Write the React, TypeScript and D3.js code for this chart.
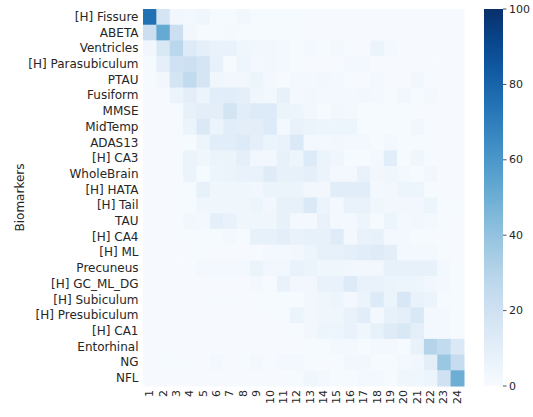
import React from "react";
import * as d3 from "d3";

const rowLabels = [
  "[H] Fissure", "ABETA", "Ventricles", "[H] Parasubiculum", "PTAU", "Fusiform",
  "MMSE", "MidTemp", "ADAS13", "[H] CA3", "WholeBrain", "[H] HATA", "[H] Tail",
  "TAU", "[H] CA4", "[H] ML", "Precuneus", "[H] GC_ML_DG", "[H] Subiculum",
  "[H] Presubiculum", "[H] CA1", "Entorhinal", "NG", "NFL",
];
const colLabels = Array.from({ length: 24 }, (_, i) => String(i + 1));

const r00 = [75, 17, 3, 2, 4, 1, 1, 3, 1, 1, 1, 1, 0.5, 0.5, 0.5, 0.5, 0.5, 0.5, 0.5, 0.5, 0.5, 0.5, 0.5, 0.5];
const r01 = [22, 52, 22, 3, 1, 1, 1.5, 1, 1, 1, 1, 1, 0.5, 0.5, 0.5, 0.5, 0.5, 0.5, 0.5, 0.5, 0.5, 0.5, 0.5, 0.5];
const r02 = [3, 15, 28, 13, 9, 7, 7, 4, 3, 3, 2, 1, 2, 1, 2, 0.5, 0.5, 6, 2, 0.5, 0.5, 0.5, 0.5, 0.5];
const r03 = [1, 9, 20, 21, 17, 8, 1, 5, 2, 3, 2, 1, 0.5, 0.5, 0.5, 2, 2, 0.5, 0.5, 0.5, 0.5, 0.5, 0.5, 0.5];
const r04 = [1, 3, 18, 26, 17, 4, 3, 3, 5, 2, 0.5, 2, 2, 3, 2, 1, 0.5, 2, 0.5, 0.5, 3, 0.5, 0.5, 0.5];
const r05 = [0.5, 0.5, 6, 10, 6, 11, 11, 9, 4, 2, 8, 2, 3, 2, 2, 2, 3, 2, 1, 3, 1, 2, 0.5, 0.5];
const r06 = [0.5, 0.5, 1, 8, 10, 10, 18, 11, 13, 13, 6, 5, 3, 1, 3, 2, 1, 1, 1, 1, 0.5, 0.5, 0.5, 0.5];
const r07 = [0.5, 0.5, 1, 6, 14, 6, 11, 10, 10, 13, 2, 7, 6, 5, 5, 5, 1, 1, 1, 1, 3, 0.5, 0.5, 0.5];
const r08 = [0.5, 0.5, 0.5, 1, 5, 11, 11, 13, 9, 6, 7, 14, 2, 2, 3, 2, 2, 1, 2, 1, 1, 1, 0.5, 0.5];
const r09 = [0.5, 0.5, 0.5, 6, 4, 6, 6, 9, 3, 3, 8, 5, 13, 6, 4, 1, 1, 2, 11, 1, 4, 1, 0.5, 0.5];
const r10 = [0.5, 0.5, 0.5, 6, 1, 5, 6, 7, 7, 12, 8, 8, 9, 6, 2, 2, 7, 3, 4, 2, 1, 3, 0.5, 0.5];
const r11 = [0.5, 0.5, 1, 1, 8, 4, 4, 4, 3, 6, 6, 6, 3, 3, 11, 11, 11, 2, 3, 5, 5, 1, 0.5, 0.5];
const r12 = [0.5, 0.5, 1, 1, 4, 4, 4, 4, 5, 3, 8, 8, 14, 6, 2, 7, 7, 4, 3, 3, 3, 5, 1, 1];
const r13 = [0.5, 0.5, 0.5, 3, 2, 9, 7, 4, 4, 4, 8, 2, 2, 7, 2, 2, 5, 1, 5, 2, 3, 2, 1, 0.5];
const r14 = [0.5, 0.5, 0.5, 1, 1, 1, 2, 1, 8, 8, 10, 7, 8, 8, 12, 2, 7, 8, 2, 2, 1, 1, 0.5, 0.5];
const r15 = [0.5, 0.5, 0.5, 0.5, 1, 0.5, 0.5, 0.5, 0.5, 2, 2, 3, 5, 8, 8, 9, 11, 12, 10, 2, 2, 2, 1, 0.5];
const r16 = [0.5, 0.5, 0.5, 0.5, 2, 2, 2, 2, 6, 3, 3, 7, 6, 4, 4, 3, 3, 3, 8, 8, 8, 8, 2, 1];
const r17 = [0.5, 0.5, 0.5, 0.5, 0.5, 0.5, 0.5, 0.5, 2, 0.5, 7, 3, 3, 7, 7, 13, 7, 7, 6, 5, 5, 3, 2, 1];
const r18 = [0.5, 0.5, 0.5, 0.5, 0.5, 1, 1, 0.5, 1, 1, 1, 1, 3, 4, 5, 2, 6, 13, 6, 16, 7, 6, 1, 1];
const r19 = [0.5, 0.5, 0.5, 0.5, 0.5, 0.5, 0.5, 0.5, 0.5, 0.5, 1, 6, 3, 4, 4, 7, 11, 2, 8, 9, 15, 2, 2, 1];
const r20 = [0.5, 0.5, 0.5, 0.5, 0.5, 0.5, 0.5, 0.5, 0.5, 0.5, 0.5, 1, 3, 5, 5, 7, 4, 8, 12, 15, 10, 2, 2, 1];
const r21 = [0.5, 0.5, 0.5, 0.5, 0.5, 0.5, 0.5, 0.5, 0.5, 0.5, 0.5, 0.5, 1, 1, 2, 2, 1, 2, 2, 1, 7, 30, 25, 14];
const r22 = [0.5, 1, 1, 0.5, 0.5, 2, 0.5, 1, 2, 0.5, 2, 2, 1, 0.5, 1, 3, 3, 1, 1, 2, 3, 10, 38, 24];
const r23 = [0.5, 0.5, 0.5, 0.5, 0.5, 0.5, 0.5, 0.5, 0.5, 0.5, 0.5, 1, 4, 2, 1, 1, 2, 2, 1, 4, 4, 5, 20, 50];

const matrix = [r00, r01, r02, r03, r04, r05, r06, r07, r08, r09, r10, r11, r12, r13, r14, r15, r16, r17, r18, r19, r20, r21, r22, r23];
const cbarTicks = [0, 20, 40, 60, 80, 100];

const W = 533, H = 417;
const left = 143, right = 464, top = 9, bottom = 386;
const cbX = 484, cbW = 19;
const textColor = "#262626";
const font = "DejaVu Sans, sans-serif";

export default function App() {
  const x = d3.scaleBand<string>().domain(colLabels).range([left, right]);
  const y = d3.scaleBand<string>().domain(rowLabels).range([top, bottom]);
  const color = d3.scaleSequential(d3.interpolateBlues).domain([0, 100]);
  const cbY = d3.scaleLinear().domain([0, 100]).range([bottom, top]);
  const stops = d3.range(0, 101, 5);

  return (
    <svg width={W} height={H} style={{ position: "absolute", left: 0, top: 0, background: "#fff" }} fontFamily={font}>
      <defs>
        <linearGradient id="cb" x1="0" y1="1" x2="0" y2="0">
          {stops.map((s) => (
            <stop key={s} offset={`${s}%`} stopColor={color(s)} />
          ))}
        </linearGradient>
      </defs>
      {matrix.map((row, ri) =>
        row.map((v, ci) => (
          <rect
            key={`${ri}-${ci}`}
            x={x(colLabels[ci])}
            y={y(rowLabels[ri])}
            width={x.bandwidth() + 0.5}
            height={y.bandwidth() + 0.5}
            fill={color(v)}
          />
        ))
      )}
      {rowLabels.map((l) => (
        <text key={l} x={left - 4.5} y={(y(l) as number) + y.bandwidth() / 2} textAnchor="end" dominantBaseline="central" fontSize={12} fill={textColor}>
          {l}
        </text>
      ))}
      {colLabels.map((l) => (
        <text
          key={l}
          transform={`translate(${(x(l) as number) + x.bandwidth() / 2},${bottom + 4}) rotate(-90)`}
          textAnchor="end"
          dominantBaseline="central"
          fontSize={11}
          fill={textColor}
        >
          {l}
        </text>
      ))}
      <text transform={`translate(20,${(top + bottom) / 2}) rotate(-90)`} textAnchor="middle" dominantBaseline="central" fontSize={12} fill={textColor}>
        Biomarkers
      </text>
      <rect x={cbX} y={top} width={cbW} height={bottom - top} fill="url(#cb)" />
      {cbarTicks.map((t) => (
        <g key={t}>
          <line x1={cbX + cbW} x2={cbX + cbW + 3.5} y1={cbY(t)} y2={cbY(t)} stroke={textColor} strokeWidth={0.8} />
          <text x={cbX + cbW + 6} y={cbY(t)} dominantBaseline="central" fontSize={11} fill={textColor}>
            {t}
          </text>
        </g>
      ))}
    </svg>
  );
}
